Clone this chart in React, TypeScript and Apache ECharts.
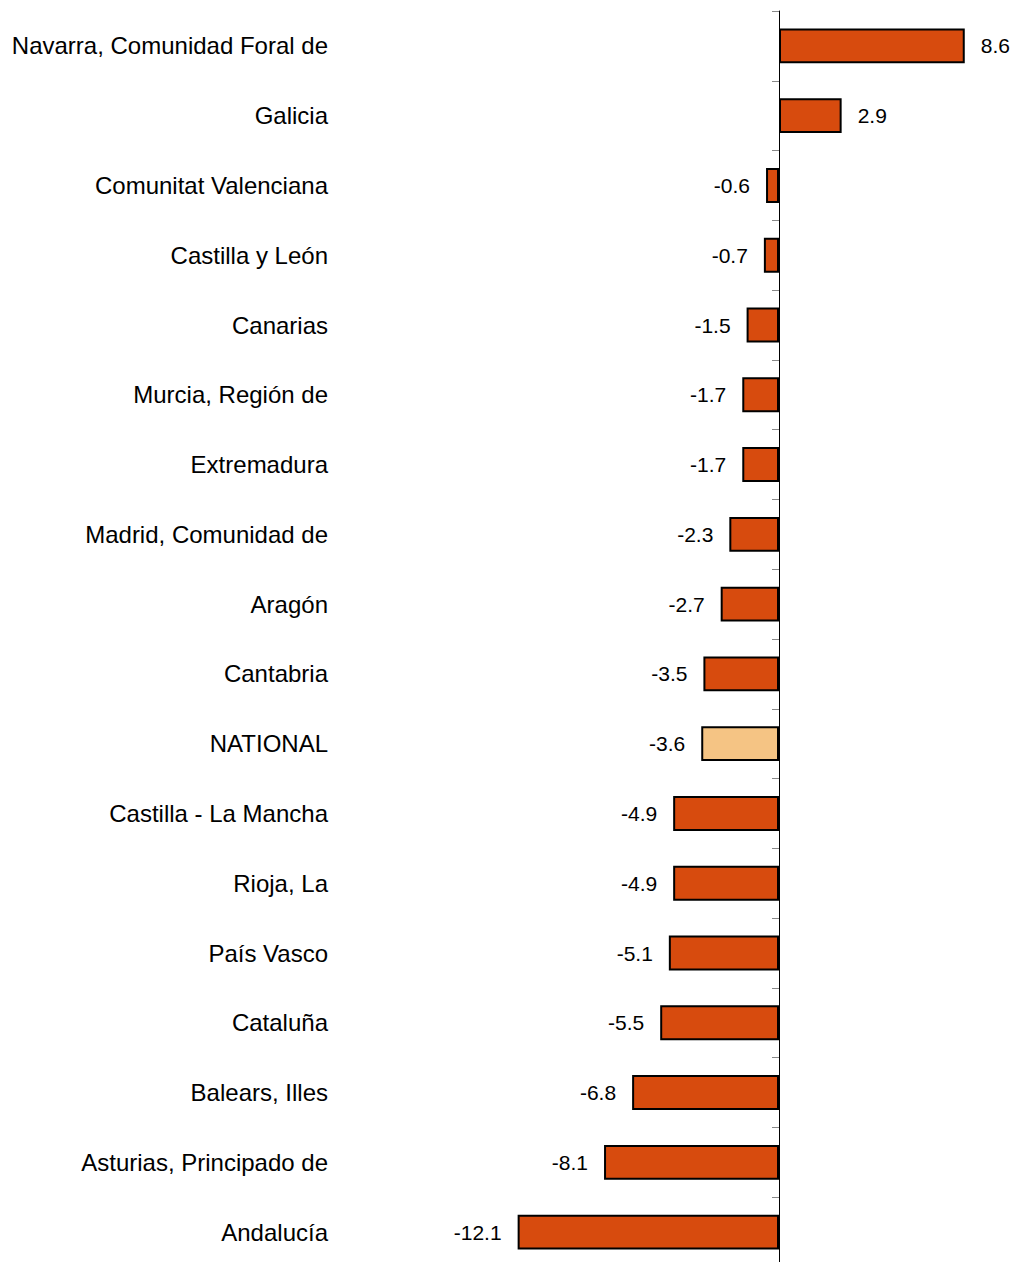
import React, { useEffect, useRef } from "react";
import * as echarts from "echarts";

const categories = [
  "Navarra, Comunidad Foral de",
  "Galicia",
  "Comunitat Valenciana",
  "Castilla y León",
  "Canarias",
  "Murcia, Región de",
  "Extremadura",
  "Madrid, Comunidad de",
  "Aragón",
  "Cantabria",
  "NATIONAL",
  "Castilla - La Mancha",
  "Rioja, La",
  "País Vasco",
  "Cataluña",
  "Balears, Illes",
  "Asturias, Principado de",
  "Andalucía",
];
const values = [8.6, 2.9, -0.6, -0.7, -1.5, -1.7, -1.7, -2.3, -2.7, -3.5, -3.6, -4.9, -4.9, -5.1, -5.5, -6.8, -8.1, -12.1];
const highlight = "NATIONAL";

const FONT = "'Liberation Sans', Arial, sans-serif";

export default function App() {
  const ref = useRef<HTMLDivElement>(null);
  useEffect(() => {
    const chart = echarts.init(ref.current!, null, { renderer: "svg" });
    chart.setOption({
      animation: false,
      grid: { left: 347, width: 648, top: 11, height: 1256, outerBoundsMode: "none", containLabel: false },
      xAxis: {
        type: "value",
        min: -20,
        max: 10,
        show: false,
        splitLine: { show: false },
      },
      yAxis: {
        type: "category",
        inverse: true,
        data: categories,
        axisLine: { onZero: true, lineStyle: { color: "#000", width: 1 } },
        axisTick: { show: true, length: 7, lineStyle: { color: "#888" } },
        axisLabel: {
          margin: 19,
          fontSize: 24,
          fontFamily: FONT,
          color: "#000",
          align: "right",
        },
      },
      series: [
        {
          type: "bar",
          barWidth: "50%",
          data: values.map((v, i) => ({
            value: v,
            itemStyle: {
              color: categories[i] === highlight ? "#F5C484" : "#D74B0E",
            },
            label: { position: v < 0 ? "left" : "right" },
          })),
          itemStyle: { borderColor: "#000", borderWidth: 2 },
          label: {
            show: true,
            distance: 16,
            fontSize: 21,
            fontFamily: FONT,
            color: "#000",
            formatter: (p: any) => p.value.toFixed(1),
          },
        },
      ],
    });
    return () => chart.dispose();
  }, []);
  return <div ref={ref} style={{ width: 1014, height: 1262, position: "absolute", left: 0, top: 0 }} />;
}
